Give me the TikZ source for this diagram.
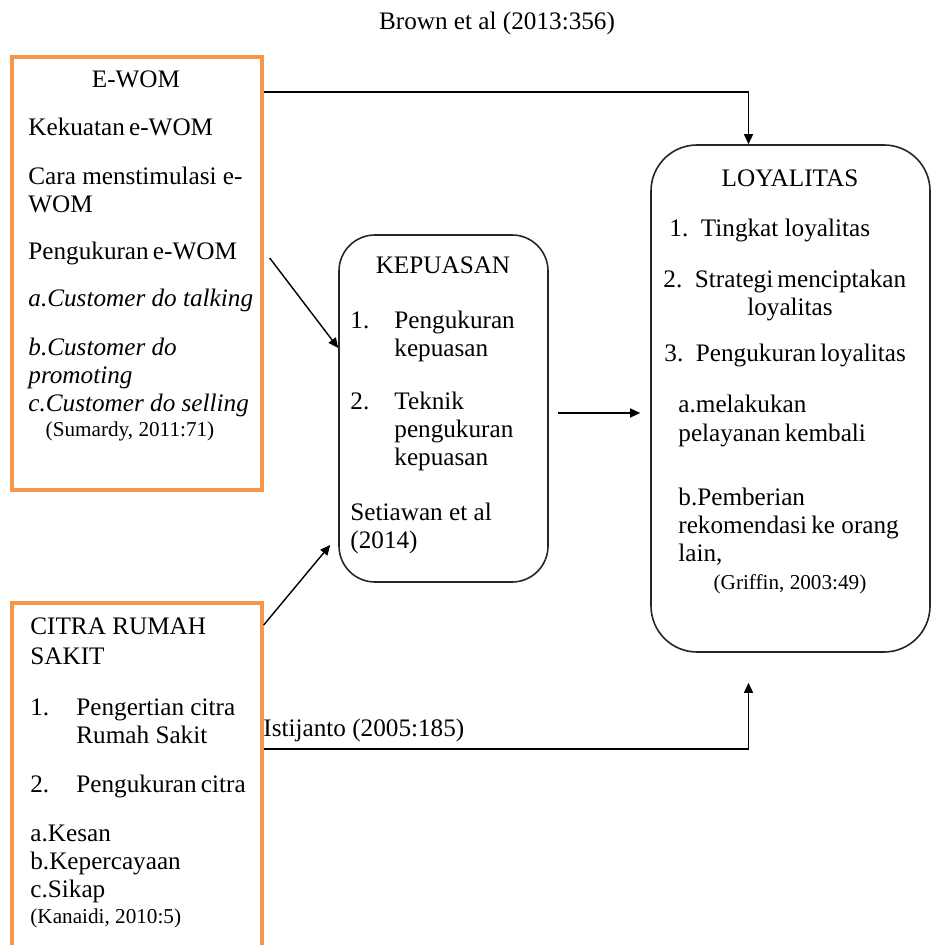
\documentclass[tikz,border=0pt]{standalone}
\usepackage{fontspec}
\setmainfont{Liberation Serif}
\usetikzlibrary{fit}
\usetikzlibrary{positioning}
\usetikzlibrary{arrows.meta}
\usetikzlibrary{calc}

\definecolor{boxorange}{RGB}{247,150,70}

\tikzset{
  orangebox/.style={draw=boxorange, line width=1.7pt, inner sep=0pt},
  roundbox/.style={draw=black!85, line width=0.8pt, rounded corners=#1, inner sep=0pt},
  txt/.style={anchor=base west, inner sep=0pt, align=left, font=\fontsize{12.6}{14}\selectfont},
  ctxt/.style={anchor=base, inner sep=0pt, align=center, font=\fontsize{12.6}{14}\selectfont},
  itxt/.style={txt, font=\fontsize{12.6}{14}\selectfont\itshape},
  small/.style={anchor=base, inner sep=0pt, font=\fontsize{10.6}{12}\selectfont},
  arrow/.style={-{Triangle[length=5pt,width=4.5pt]}, line width=0.7pt}
}

\begin{document}
\begin{tikzpicture}[x=0.5pt, y=-0.5pt]
    \useasboundingbox (0,0) rectangle (931,945);

    \node[ctxt] (source) at (497,30) {Brown et al (2013:356)};

    % e-wom (multi-line texts sit on their last baseline)
    \node[orangebox, fit={(12,57) (262,490)}] (ewom) {};
    \node[ctxt] (ewomtitle) at (136,88) {E-WOM};
    \node[txt] (ewomA) at (28,136) {Kekuatan\,e-WOM};
    \node[txt] (ewomB) at (28,213) {Cara menstimulasi e-\\WOM};
    \node[txt] (ewomC) at (28,260) {Pengukuran\,e-WOM};
    \node[itxt] (ewomD) at (28,307) {a.Customer do talking};
    \node[itxt] (ewomE) at (28,412) {b.Customer do\\promoting\\c.Customer do selling};
    \node[small] (ewomref) at (130,437) {(Sumardy, 2011:71)};

    % citra rumah sakit
    \node[orangebox, fit={(12,603) (262,990)}] (citra) {};
    \node[txt] (citratitle) at (30,664) {CITRA RUMAH\\[1pt]SAKIT};
    \node[txt] (citraA) at (30,715) {1.};
    \node[txt] (citraAtext) at (76,743) {Pengertian citra\\Rumah Sakit};
    \node[txt] (citraB) at (30,792) {2.};
    \node[txt] (citraBtext) at (76,792) {Pengukuran\,citra};
    \node[txt] (citraC) at (30,897) {a.Kesan\\b.Kepercayaan\\c.Sikap};
    \node[small, anchor=base west] (citraref) at (30,923) {(Kanaidi, 2010:5)};

    % kepuasan
    \node[roundbox=18pt, fit={(339,235) (548,582)}] (kep) {};
    \node[ctxt] (keptitle) at (443,274) {KEPUASAN};
    \node[txt] (kepA) at (350,329) {1.};
    \node[txt] (kepAtext) at (394,357) {Pengukuran\\kepuasan};
    \node[txt] (kepB) at (350,410) {2.};
    \node[txt] (kepBtext) at (394,466) {Teknik\\pengukuran\\kepuasan};
    \node[txt] (kepref) at (350,548) {Setiawan et al\\(2014)};

    % loyalitas
    \node[roundbox=23pt, fit={(651,145) (930,652)}] (loyal) {};
    \node[ctxt] (loyaltitle) at (790,187) {LOYALITAS};
    \node[txt] (loyalA) at (669,237) {1.\ \ Tingkat loyalitas};
    \node[txt] (loyalB) at (663,288) {2.\ \ Strategi\,menciptakan};
    \node[ctxt] (loyalBb) at (790,316) {loyalitas};
    \node[txt] (loyalC) at (664,362) {3.\ \ Pengukuran\,loyalitas};
    \node[txt] (loyalD) at (678,441) {a.melakukan\\pelayanan\,kembali};
    \node[txt] (loyalE) at (678,561) {b.Pemberian\\rekomendasi\,ke orang\\lain,};
    \node[small] (loyalref) at (790,589) {(Griffin, 2003:49)};

    % connectors
    \draw[arrow] (ewom.east |- 0,92) -| ($(loyal.north)+(-42,0)$);
    \draw[arrow] ($(ewom.east |- 0,258)+(6,0)$) -- (kep.west |- 0,348);
    \draw[arrow] (citra.east |- 0,625) -- ($(kep.west |- 0,545)+(-8,0)$);
    \draw[arrow] ($(kep.east |- 0,413)+(9,0)$) -- ($(loyal.west |- 0,413)+(-10,0)$);
    \draw[arrow] (citra.east |- 0,749) -| ($(loyal.south)+(-42,30)$);
    \node[txt] (istijanto) at (263,736) {Istijanto (2005:185)};
\end{tikzpicture}
\end{document}
